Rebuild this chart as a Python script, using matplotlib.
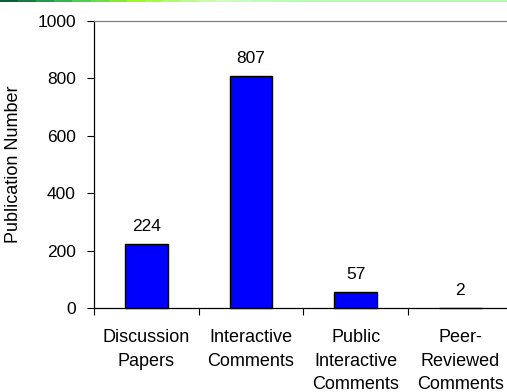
import matplotlib.pyplot as plt
import numpy as np
from matplotlib.colors import ListedColormap

plt.rcParams['font.family'] = ['Liberation Sans', 'DejaVu Sans']

categories = ["Discussion\nPapers", "Interactive\nComments",
              "Public\nInteractive\nComments", "Peer-\nReviewed\nComments"]
counts = [224, 807, 57, 2]
yticks = [0, 200, 400, 600, 800, 1000]

# colour strip along the top edge
strip_colors = ["#0b5e35", "#157a3f", "#259a4b", "#37b552", "#4fcc55",
                "#6adc45", "#84ea35", "#99f82a", "#a4fa45", "#b4f872",
                "#c2f894", "#ccfaae", "#cffcc0", "#c8fcc4", "#c0fcbc",
                "#bafcb6", "#b6fcb2", "#b4fcb0", "#b2fcae", "#b2fcae",
                "#b0fcac", "#b0fcac", "#b0fcac", "#b0fcac", "#b0fcac",
                "#b0fcac", "#b0fcac", "#b0fcac"]

fig = plt.figure(figsize=(5.07, 3.92), dpi=100)
strip = fig.add_axes([0, 1 - 2.5 / 392, 1, 2.5 / 392])
strip.imshow(np.arange(len(strip_colors))[None, :], aspect="auto",
             cmap=ListedColormap(strip_colors), interpolation="nearest")
strip.axis("off")

ax = fig.add_axes([94 / 507, 83.7 / 392, 418.7 / 507, 287.6 / 392])
x = np.arange(len(counts))
bars = ax.bar(x, counts, width=0.41, color="#0000ff",
              edgecolor="black", linewidth=1.0, zorder=3, clip_on=False)

for xi, v in zip(x, counts):
    ax.annotate(str(v), (xi, v), xytext=(0, 7), textcoords="offset points",
                ha="center", va="bottom", fontsize=12.5)

ax.set_xlim(-0.5, 3.5)
ax.set_ylim(0, 1000)
ax.set_yticks(yticks)
ax.tick_params(axis="y", labelsize=12.5, length=5, width=0.8, pad=8)

# category boundaries get the tick marks, labels sit in between
ax.set_xticks(x - 0.5)
ax.set_xticklabels([])
ax.tick_params(axis="x", length=5, width=0.8)
ax.set_xticks(x, minor=True)
ax.set_xticklabels(categories, minor=True, fontsize=13, linespacing=1.5)
ax.tick_params(axis="x", which="minor", length=0, pad=15)

ax.set_ylabel("Publication Number", fontsize=13)
ax.yaxis.set_label_coords(-0.172, 0.5)

for side in ["left", "bottom"]:
    ax.spines[side].set_color("black")
    ax.spines[side].set_linewidth(0.9)
ax.spines["right"].set_visible(False)
ax.spines["top"].set_color("#808080")
ax.spines["top"].set_linewidth(0.9)

fig.savefig("out.png", dpi=100)
